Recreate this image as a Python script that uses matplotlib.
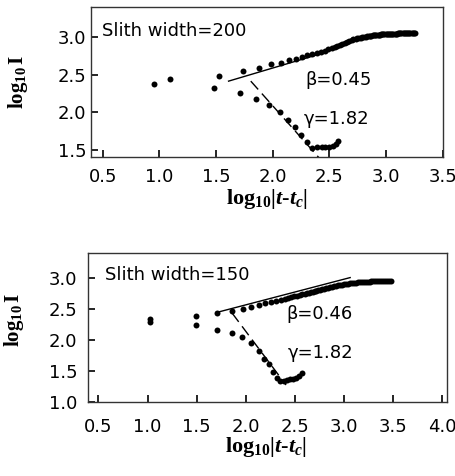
import matplotlib
matplotlib.use("Agg")
import matplotlib.pyplot as plt

# fonts: wide sans for ticks/annotations, bold Times-like for axis labels
plt.rcParams['font.family'] = ['DejaVu Sans']
plt.rcParams['mathtext.fontset'] = 'custom'
plt.rcParams['mathtext.rm'] = 'Liberation Serif:bold'
plt.rcParams['mathtext.it'] = 'Liberation Serif:italic:bold'
plt.rcParams['mathtext.bf'] = 'Liberation Serif:bold'

# ---- slit width 200 (top panel) ----
up200_x = [1.09, 1.53, 1.74, 1.88, 1.985, 2.074, 2.147, 2.206, 2.256, 2.306,
           2.35, 2.39, 2.425, 2.46, 2.49, 2.52, 2.545, 2.57, 2.595, 2.615,
           2.635, 2.655, 2.675, 2.695, 2.71, 2.73, 2.745, 2.76, 2.775, 2.79,
           2.805, 2.82, 2.83, 2.845, 2.86, 2.87, 2.88, 2.895, 2.905, 2.915,
           2.925, 2.935, 2.945, 2.955, 2.965, 2.975, 2.985, 2.995, 3.005, 3.015,
           3.025, 3.035, 3.045, 3.055, 3.065, 3.075, 3.085, 3.095, 3.105, 3.115,
           3.125, 3.135, 3.145, 3.155, 3.165, 3.175, 3.185, 3.195, 3.205, 3.215,
           3.225, 3.235, 3.245, 3.255]
up200_y = [2.44, 2.485, 2.545, 2.585, 2.635, 2.66, 2.69, 2.71, 2.73, 2.76,
           2.775, 2.79, 2.80, 2.82, 2.835, 2.85, 2.865, 2.88, 2.895, 2.91,
           2.925, 2.94, 2.95, 2.96, 2.97, 2.978, 2.984, 2.99, 2.995, 3.0,
           3.004, 3.008, 3.011, 3.014, 3.017, 3.02, 3.022, 3.025, 3.027, 3.029,
           3.031, 3.033, 3.035, 3.036, 3.037, 3.038, 3.039, 3.040, 3.041, 3.042,
           3.043, 3.044, 3.045, 3.046, 3.047, 3.047, 3.048, 3.048, 3.049, 3.049,
           3.05, 3.05, 3.05, 3.051, 3.051, 3.051, 3.052, 3.052, 3.052, 3.052,
           3.053, 3.053, 3.053, 3.053]
lo200_x = [0.95, 1.48, 1.71, 1.855, 1.97, 2.065, 2.138, 2.197, 2.25, 2.30,
           2.345, 2.39, 2.43, 2.465, 2.50, 2.53, 2.555, 2.575]
lo200_y = [2.38, 2.32, 2.25, 2.18, 2.10, 2.00, 1.89, 1.80, 1.69, 1.595,
           1.525, 1.53, 1.535, 1.535, 1.535, 1.55, 1.58, 1.62]
beta200_x = [1.61, 2.45]
beta200_y = [2.413, 2.79]
gamma200_x = [1.806, 2.42]
gamma200_y = [2.413, 1.37]

# ---- slit width 150 (bottom panel) ----
up150_x = [1.02, 1.49, 1.71, 1.86, 1.97, 2.055, 2.13, 2.20, 2.26, 2.31,
           2.355, 2.395, 2.43, 2.465, 2.495, 2.525, 2.55, 2.575, 2.60, 2.62,
           2.64, 2.66, 2.68, 2.70, 2.72, 2.74, 2.76, 2.78, 2.80, 2.82,
           2.84, 2.86, 2.88, 2.90, 2.92, 2.94, 2.96, 2.98, 3.00, 3.02,
           3.04, 3.06, 3.08, 3.10, 3.12, 3.14, 3.16, 3.18, 3.20, 3.22,
           3.24, 3.26, 3.28, 3.30, 3.32, 3.34, 3.36, 3.38, 3.40, 3.42,
           3.44, 3.46, 3.475]
up150_y = [2.34, 2.38, 2.43, 2.465, 2.495, 2.525, 2.56, 2.59, 2.61, 2.63,
           2.645, 2.66, 2.675, 2.69, 2.70, 2.71, 2.72, 2.73, 2.74, 2.75,
           2.755, 2.765, 2.77, 2.78, 2.79, 2.80, 2.805, 2.815, 2.82, 2.83,
           2.84, 2.845, 2.855, 2.86, 2.865, 2.875, 2.88, 2.885, 2.89, 2.895,
           2.90, 2.905, 2.91, 2.915, 2.918, 2.921, 2.924, 2.927, 2.93, 2.932,
           2.934, 2.936, 2.938, 2.94, 2.941, 2.942, 2.943, 2.944, 2.945, 2.945,
           2.946, 2.946, 2.946]
lo150_x = [1.02, 1.49, 1.71, 1.855, 1.965, 2.052, 2.13, 2.19, 2.235, 2.28,
           2.32, 2.35, 2.385, 2.42, 2.45, 2.48, 2.51, 2.54, 2.57]
lo150_y = [2.29, 2.23, 2.16, 2.105, 2.04, 1.95, 1.82, 1.69, 1.60, 1.48,
           1.38, 1.33, 1.34, 1.35, 1.36, 1.37, 1.39, 1.42, 1.46]
beta150_x = [1.72, 3.063]
beta150_y = [2.445, 3.0]
gamma150_x = [1.86, 2.41]
gamma150_y = [2.43, 1.27]

XLABEL = r'$\mathrm{log}_{10}|t$-$t_c|$'
YLABEL = r'$\mathrm{log}_{10}\,\mathrm{I}$'
FS = 13


def style_axes(ax, xticks, yticks, xpad, ypad):
    ax.set_xticks(xticks)
    ax.set_yticks(yticks)
    ax.set_xticklabels([f"{v:.1f}" for v in xticks])
    ax.set_yticklabels([f"{v:.1f}" for v in yticks])
    ax.tick_params(axis='x', direction='in', length=5, width=1.2,
                   pad=xpad, labelsize=FS, top=False)
    ax.tick_params(axis='y', direction='in', length=5, width=1.2,
                   pad=ypad, labelsize=FS, right=False)
    for sp in ax.spines.values():
        sp.set_linewidth(1.0)
        sp.set_color('#333333')


def draw_panel(ax, up_x, up_y, lo_x, lo_y, bx, by, gx, gy):
    ax.plot(up_x, up_y, 'o', color='black', ms=4.3, mec='none')
    ax.plot(lo_x, lo_y, 'o', color='black', ms=4.3, mec='none')
    ax.plot(bx, by, '-', color='black', lw=1.0)
    ax.plot(gx, gy, color='black', lw=1.0, linestyle=(0, (8, 4)))


fig = plt.figure(figsize=(4.56, 4.76), dpi=100)

# top panel
ax1 = fig.add_axes([0.199, 0.670, 0.772, 0.315])
draw_panel(ax1, up200_x, up200_y, lo200_x, lo200_y,
           beta200_x, beta200_y, gamma200_x, gamma200_y)
ax1.set_xlim(0.394, 3.5)
ax1.set_ylim(1.40, 3.40)
style_axes(ax1, [0.5, 1.0, 1.5, 2.0, 2.5, 3.0, 3.5], [1.5, 2.0, 2.5, 3.0], 8, 3)
ax1.text(0.49, 3.02, "Slith width=200", fontsize=FS, va='baseline')
ax1.text(2.285, 2.356, "β=0.45", fontsize=FS, va='baseline')
ax1.text(2.276, 1.836, "γ=1.82", fontsize=FS, va='baseline')
ax1.set_xlabel(XLABEL, fontsize=16, fontfamily='Liberation Serif', fontweight='bold')
ax1.xaxis.set_label_coords(0.5, -0.20)
ax1.set_ylabel(YLABEL, fontsize=15)
ax1.yaxis.set_label_coords(-0.172, 0.5)

# bottom panel
ax2 = fig.add_axes([0.194, 0.156, 0.786, 0.313])
draw_panel(ax2, up150_x, up150_y, lo150_x, lo150_y,
           beta150_x, beta150_y, gamma150_x, gamma150_y)
ax2.set_xlim(0.398, 4.048)
ax2.set_ylim(1.0, 3.40)
style_axes(ax2, [0.5, 1.0, 1.5, 2.0, 2.5, 3.0, 3.5, 4.0],
           [1.0, 1.5, 2.0, 2.5, 3.0], 12, 8)
ax2.text(0.568, 2.956, "Slith width=150", fontsize=FS, va='baseline')
ax2.text(2.418, 2.34, "β=0.46", fontsize=FS, va='baseline')
ax2.text(2.425, 1.71, "γ=1.82", fontsize=FS, va='baseline')
ax2.set_xlabel(XLABEL, fontsize=16, fontfamily='Liberation Serif', fontweight='bold')
ax2.xaxis.set_label_coords(0.495, -0.225)
ax2.set_ylabel(YLABEL, fontsize=15)
ax2.yaxis.set_label_coords(-0.175, 0.55)

fig.savefig("out.png", dpi=100)
